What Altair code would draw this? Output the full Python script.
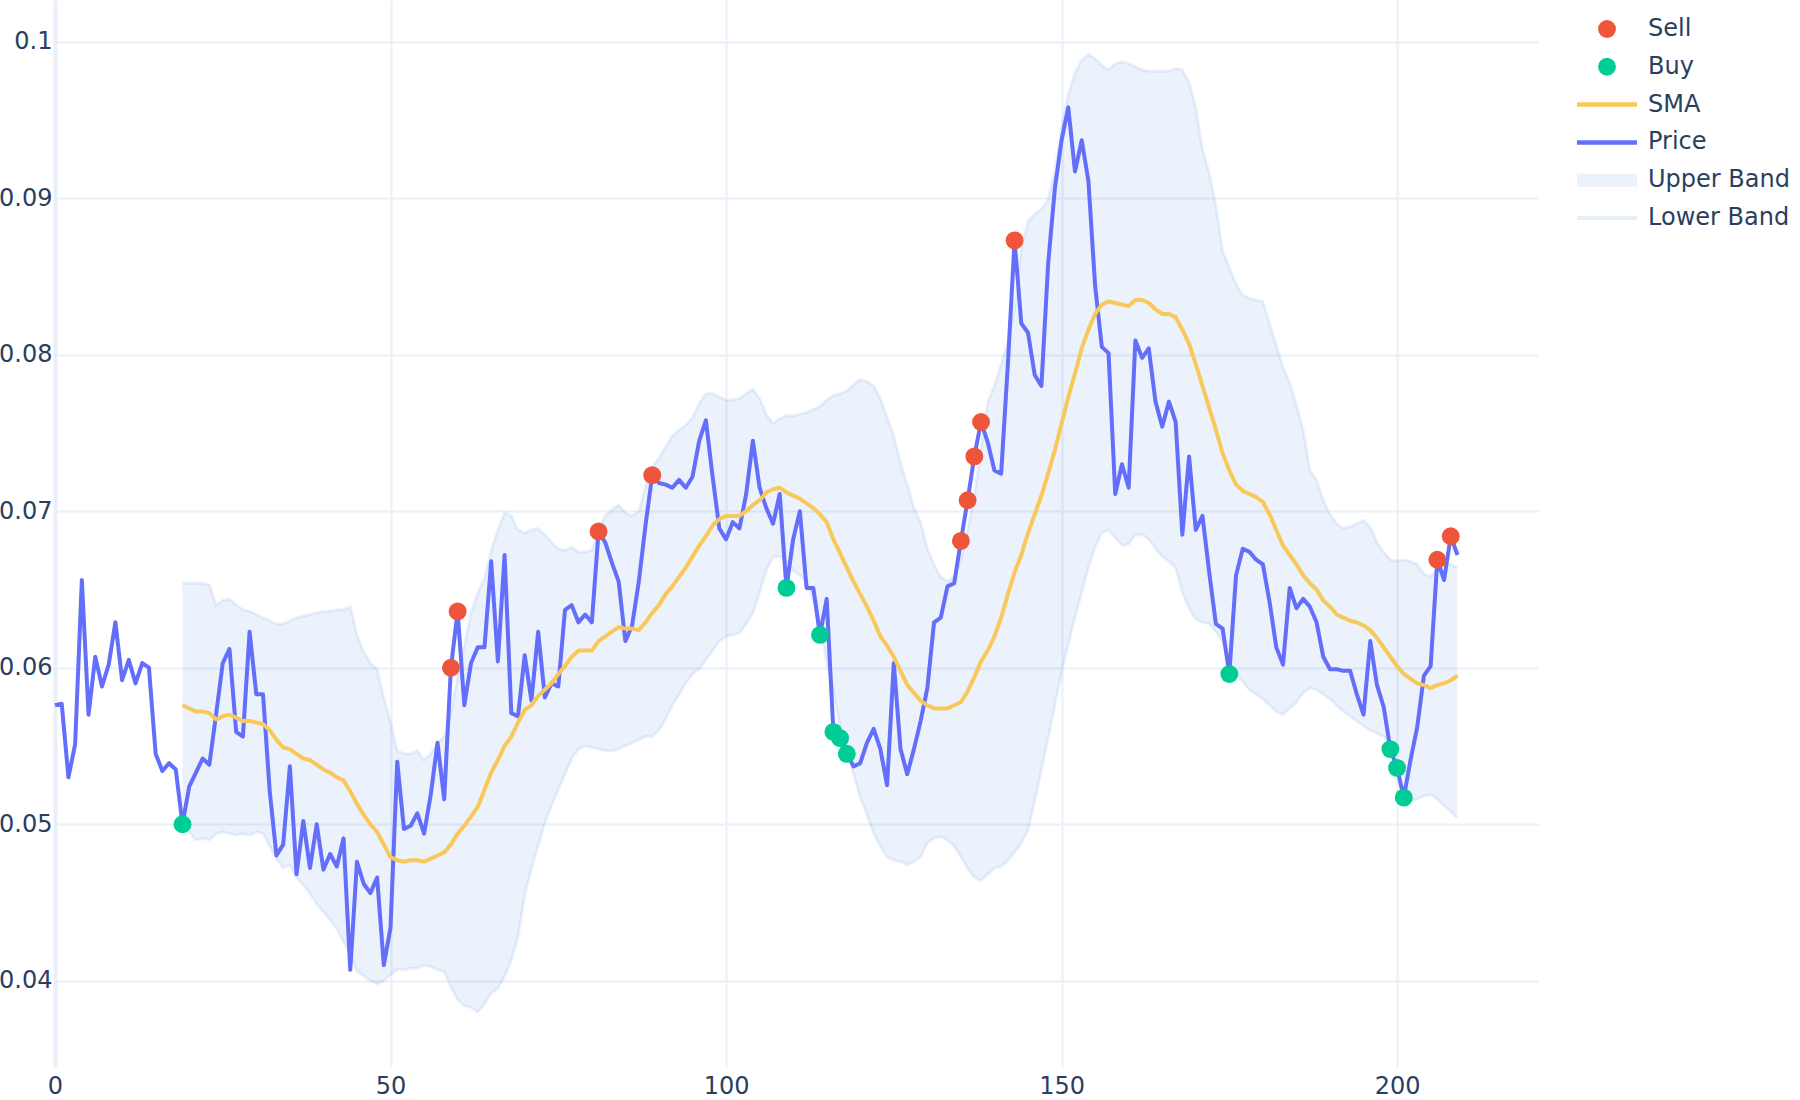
import altair as alt
import pandas as pd

# ---------------- data ----------------
price = [
    0.0576, 0.0577, 0.0530, 0.0551, 0.0656, 0.0570, 0.0607, 0.0588, 0.0602, 0.0629,
    0.0592, 0.0605, 0.0590, 0.0603, 0.0600, 0.0545, 0.0534, 0.0539, 0.0535, 0.0500,
    0.0524, 0.0533, 0.0542, 0.0538, 0.0570, 0.0603, 0.0612, 0.0559, 0.0556, 0.0623,
    0.0583, 0.0583, 0.0521, 0.0480, 0.0487, 0.0537, 0.0468, 0.0502, 0.0472, 0.0500,
    0.0471, 0.0481, 0.0473, 0.0491, 0.0407, 0.0476, 0.0462, 0.0456, 0.0466, 0.0410,
    0.0434, 0.0540, 0.0497, 0.0499, 0.0507, 0.0494, 0.0519, 0.0552, 0.0516, 0.0600,
    0.0636, 0.0576, 0.0603, 0.0613, 0.0613, 0.0668, 0.0604, 0.0672, 0.0571, 0.0569,
    0.0608, 0.0579, 0.0623, 0.0581, 0.0590, 0.0588, 0.0637, 0.0640, 0.0629, 0.0634,
    0.0629, 0.0687, 0.0680, 0.0667, 0.0655, 0.0617, 0.0627, 0.0655, 0.0691, 0.0723,
    0.0718, 0.0717, 0.0715, 0.0720, 0.0715, 0.0722, 0.0745, 0.0758, 0.0722, 0.0689,
    0.0682, 0.0693, 0.0689, 0.0711, 0.0745, 0.0715, 0.0702, 0.0692, 0.0711, 0.0651,
    0.0682, 0.0700, 0.0651, 0.0651, 0.0621, 0.0644, 0.0559, 0.0555, 0.0545, 0.0537,
    0.0539, 0.0552, 0.0561, 0.0548, 0.0525, 0.0603, 0.0548, 0.0532, 0.0548, 0.0566,
    0.0587, 0.0629, 0.0632, 0.0652, 0.0654, 0.0681, 0.0707, 0.0735, 0.0757, 0.0744,
    0.0726, 0.0724, 0.0794, 0.0873, 0.0820, 0.0814, 0.0787, 0.0780, 0.0858, 0.0906,
    0.0937, 0.0958, 0.0917, 0.0937, 0.0911, 0.0844, 0.0805, 0.0801, 0.0711, 0.0730,
    0.0715, 0.0809, 0.0798, 0.0804, 0.0770, 0.0754, 0.0770, 0.0757, 0.0685, 0.0735,
    0.0688, 0.0697, 0.0661, 0.0628, 0.0625, 0.0596, 0.0659, 0.0676, 0.0674, 0.0669,
    0.0666, 0.0642, 0.0613, 0.0602, 0.0651, 0.0638, 0.0644, 0.0639, 0.0629, 0.0607,
    0.0599, 0.0599, 0.0598, 0.0598, 0.0583, 0.0570, 0.0617, 0.0589, 0.0575, 0.0548,
    0.0536, 0.0517, 0.0541, 0.0562, 0.0595, 0.0601, 0.0669, 0.0656, 0.0684, 0.0672,
]

band_start = 19  # SMA / bands begin at this index

sma = [
    0.0576, 0.0574, 0.0572, 0.0572, 0.0571, 0.0567, 0.0569, 0.0570, 0.0568, 0.0566,
    0.0566, 0.0565, 0.0564, 0.0560, 0.0554, 0.0549, 0.0548, 0.0545, 0.0542, 0.0541,
    0.0538, 0.0535, 0.0533, 0.0530, 0.0528, 0.0521, 0.0513, 0.0506, 0.0500, 0.0495,
    0.0487, 0.0479, 0.0477, 0.0476, 0.0477, 0.0477, 0.0476, 0.0478, 0.0480, 0.0482,
    0.0487, 0.0494, 0.0499, 0.0505, 0.0511, 0.0522, 0.0533, 0.0541, 0.0550, 0.0556,
    0.0565, 0.0573, 0.0576, 0.0582, 0.0586, 0.0590, 0.0596, 0.0601, 0.0607, 0.0611,
    0.0611, 0.0611, 0.0617, 0.0620, 0.0623, 0.0626, 0.0625, 0.0625, 0.0624, 0.0629,
    0.0635, 0.0640, 0.0647, 0.0652, 0.0658, 0.0664, 0.0671, 0.0678, 0.0684, 0.0691,
    0.0695, 0.0697, 0.0697, 0.0697, 0.0700, 0.0704, 0.0707, 0.0712, 0.0714, 0.0715,
    0.0712, 0.0710, 0.0708, 0.0705, 0.0702, 0.0698, 0.0693, 0.0682, 0.0673, 0.0664,
    0.0655, 0.0647, 0.0639, 0.0630, 0.0620, 0.0614, 0.0607, 0.0598, 0.0589, 0.0584,
    0.0579, 0.0576, 0.0574, 0.0574, 0.0574, 0.0576, 0.0578, 0.0585, 0.0594, 0.0604,
    0.0611, 0.0620, 0.0632, 0.0647, 0.0661, 0.0672, 0.0686, 0.0698, 0.0710, 0.0724,
    0.0739, 0.0756, 0.0773, 0.0788, 0.0804, 0.0816, 0.0826, 0.0832, 0.0834, 0.0833,
    0.0832, 0.0831, 0.0835, 0.0835, 0.0833, 0.0829, 0.0826, 0.0826, 0.0824, 0.0816,
    0.0807, 0.0794, 0.0780, 0.0766, 0.0752, 0.0737, 0.0726, 0.0717, 0.0713, 0.0711,
    0.0709, 0.0706, 0.0698, 0.0688, 0.0678, 0.0672, 0.0666, 0.0659, 0.0654, 0.0650,
    0.0643, 0.0639, 0.0634, 0.0632, 0.0630, 0.0629, 0.0627, 0.0624, 0.0619, 0.0613,
    0.0607, 0.0601, 0.0596, 0.0593, 0.0590, 0.0589, 0.0587, 0.0589, 0.0590, 0.0592,
    0.0595,
]

upper = [
    0.0654, 0.0654, 0.0654, 0.0654, 0.0653, 0.0640, 0.0643, 0.0644, 0.0640, 0.0637,
    0.0636, 0.0634, 0.0632, 0.0630, 0.0628, 0.0628, 0.0630, 0.0632, 0.0633, 0.0634,
    0.0635, 0.0636, 0.0636, 0.0637, 0.0637, 0.0639, 0.0621, 0.0610, 0.0603, 0.0599,
    0.0581, 0.0565, 0.0547, 0.0545, 0.0545, 0.0547, 0.0541, 0.0545, 0.0552, 0.0556,
    0.0572, 0.0594, 0.0614, 0.0635, 0.0648, 0.0657, 0.0675, 0.0688, 0.0699, 0.0697,
    0.0688, 0.0686, 0.0688, 0.0689, 0.0685, 0.0680, 0.0676, 0.0675, 0.0677, 0.0674,
    0.0674, 0.0675, 0.0688, 0.0697, 0.0701, 0.0704, 0.0699, 0.0697, 0.0700, 0.0716,
    0.0728, 0.0734, 0.0741, 0.0748, 0.0752, 0.0755, 0.0760, 0.0769, 0.0775, 0.0775,
    0.0773, 0.0771, 0.0771, 0.0772, 0.0775, 0.0778, 0.0772, 0.0762, 0.0756, 0.0759,
    0.0761, 0.0761, 0.0762, 0.0763, 0.0765, 0.0767, 0.0771, 0.0774, 0.0775, 0.0777,
    0.0781, 0.0784, 0.0783, 0.0780, 0.0772, 0.0760, 0.0748, 0.0731, 0.0717, 0.0702,
    0.0693, 0.0676, 0.0666, 0.0658, 0.0655, 0.0658, 0.0669, 0.0688, 0.0710, 0.0740,
    0.0770, 0.0780, 0.0794, 0.0808, 0.0830, 0.0868, 0.0885, 0.0890, 0.0893, 0.0899,
    0.0918, 0.0945, 0.0966, 0.0980, 0.0988, 0.0992, 0.0989, 0.0985, 0.0982, 0.0986,
    0.0987, 0.0986, 0.0984, 0.0982, 0.0981, 0.0981, 0.0981, 0.0981, 0.0983, 0.0982,
    0.0974, 0.0958, 0.0931, 0.0916, 0.0895, 0.0866, 0.0856, 0.0845, 0.0838, 0.0836,
    0.0835, 0.0834, 0.0820, 0.0806, 0.0792, 0.0782, 0.0768, 0.0752, 0.0726, 0.0720,
    0.0707, 0.0698, 0.0692, 0.0689, 0.0690, 0.0692, 0.0694, 0.0690, 0.0680, 0.0674,
    0.0669, 0.0668, 0.0669, 0.0668, 0.0666, 0.0660, 0.0658, 0.0663, 0.0667, 0.0666,
    0.0664,
]

lower = [
    0.0497, 0.0495, 0.0490, 0.0491, 0.0490, 0.0494, 0.0495, 0.0494, 0.0493, 0.0494,
    0.0493, 0.0495, 0.0494, 0.0486, 0.0478, 0.0472, 0.0474, 0.0466, 0.0461, 0.0456,
    0.0449, 0.0444, 0.0439, 0.0433, 0.0425, 0.0416, 0.0406, 0.0403, 0.0400, 0.0398,
    0.0400, 0.0404, 0.0407, 0.0407, 0.0408, 0.0408, 0.0410, 0.0409, 0.0407, 0.0406,
    0.0396, 0.0388, 0.0384, 0.0383, 0.0380, 0.0385, 0.0392, 0.0395, 0.0403, 0.0413,
    0.0428, 0.0455, 0.0472, 0.0486, 0.0501, 0.0512, 0.0522, 0.0532, 0.0542, 0.0548,
    0.0550, 0.0549, 0.0548, 0.0547, 0.0547, 0.0548, 0.0550, 0.0552, 0.0554, 0.0556,
    0.0556, 0.0560, 0.0567, 0.0576, 0.0583, 0.0590, 0.0596, 0.0599, 0.0605, 0.0611,
    0.0617, 0.0620, 0.0621, 0.0622, 0.0628, 0.0635, 0.0648, 0.0662, 0.0671, 0.0671,
    0.0668, 0.0662, 0.0659, 0.0654, 0.0644, 0.0629, 0.0603, 0.0585, 0.0563, 0.0547,
    0.0532, 0.0517, 0.0506, 0.0494, 0.0486, 0.0479, 0.0477, 0.0476, 0.0474, 0.0476,
    0.0479, 0.0488, 0.0491, 0.0492, 0.0490, 0.0486, 0.0479, 0.0472, 0.0466, 0.0464,
    0.0468, 0.0472, 0.0473, 0.0477, 0.0482, 0.0488, 0.0496, 0.0515, 0.0535, 0.0555,
    0.0576, 0.0597, 0.0615, 0.0632, 0.0648, 0.0664, 0.0677, 0.0686, 0.0688, 0.0683,
    0.0678, 0.0679, 0.0685, 0.0685, 0.0682, 0.0676, 0.0671, 0.0668, 0.0664, 0.0648,
    0.0638, 0.0631, 0.0629, 0.0628, 0.0623, 0.0617, 0.0603, 0.0597, 0.0591, 0.0586,
    0.0583, 0.0580, 0.0576, 0.0572, 0.0570, 0.0574, 0.0578, 0.0584, 0.0587, 0.0586,
    0.0583, 0.0580, 0.0576, 0.0572, 0.0569, 0.0566, 0.0563, 0.0560, 0.0558, 0.0556,
    0.0552, 0.0536, 0.0513, 0.0515, 0.0516, 0.0518, 0.0519, 0.0516, 0.0512, 0.0508,
    0.0504,
]

sell_idx = [59, 60, 81, 89, 135, 136, 137, 138, 143, 206, 208]
buy_idx = [19, 109, 114, 116, 117, 118, 175, 199, 200, 201]

legend_names = ["Sell", "Buy", "SMA", "Price", "Upper Band", "Lower Band"]
x_ticks = [0, 50, 100, 150, 200]
y_ticks = [0.04, 0.05, 0.06, 0.07, 0.08, 0.09, 0.1]

# ---------------- tables ----------------
df_price = pd.DataFrame({"t": list(range(len(price))), "v": price})
band_t = list(range(band_start, band_start + len(sma)))
df_band = pd.DataFrame({"t": band_t, "sma": sma, "upper": upper, "lower": lower})
df_sell = pd.DataFrame({"t": sell_idx, "v": [price[i] for i in sell_idx]})
df_buy = pd.DataFrame({"t": buy_idx, "v": [price[i] for i in buy_idx]})

# ---------------- style ----------------
FONT = "DejaVu Sans"
FSIZE = 24
TXT = "#2a3f5f"
GRID = "#EBF0F8"
C_SELL = "#EF553B"
C_BUY = "#00CC96"
C_SMA = "#F8C85A"
C_PRICE = "#636EFA"
C_BAND = "#055DD9"

W, H = 1483, 1067
PAD_L, PAD_T = 55, 0

xs = alt.Scale(domain=[0, 221], nice=False, zero=False)
ys = alt.Scale(domain=[0.03449, 0.10266], nice=False, zero=False)

x_axis = alt.Axis(values=x_ticks, grid=True, gridColor=GRID, gridWidth=2,
                  domain=False, ticks=False, labelFontSize=FSIZE, labelFont=FONT,
                  labelColor=TXT, labelPadding=7, labelFlush=False, title=None)
y_axis = alt.Axis(values=y_ticks, format=".2~f", grid=True, gridColor=GRID,
                  gridWidth=2, domain=True, domainColor=GRID, domainWidth=4,
                  ticks=False, labelFontSize=FSIZE, labelFont=FONT, labelColor=TXT,
                  labelPadding=3, labelFlush=False, title=None)

X = alt.X("t:Q", scale=xs, axis=x_axis)

band_area = alt.Chart(df_band).mark_area(color=C_BAND, opacity=0.08).encode(
    x=X, y=alt.Y("lower:Q", scale=ys, axis=y_axis), y2="upper:Q")
upper_line = alt.Chart(df_band).mark_line(color=C_BAND, opacity=0.08, strokeWidth=3).encode(
    x=X, y=alt.Y("upper:Q", scale=ys, axis=y_axis))
lower_line = alt.Chart(df_band).mark_line(color=C_BAND, opacity=0.08, strokeWidth=3).encode(
    x=X, y=alt.Y("lower:Q", scale=ys, axis=y_axis))
price_line = alt.Chart(df_price).mark_line(color=C_PRICE, strokeWidth=4, strokeJoin="round").encode(
    x=X, y=alt.Y("v:Q", scale=ys, axis=y_axis))
sma_line = alt.Chart(df_band).mark_line(color=C_SMA, strokeWidth=4, strokeJoin="round").encode(
    x=X, y=alt.Y("sma:Q", scale=ys, axis=y_axis))
buy_pts = alt.Chart(df_buy).mark_circle(color=C_BUY, size=320, opacity=1).encode(
    x=X, y=alt.Y("v:Q", scale=ys, axis=y_axis))
sell_pts = alt.Chart(df_sell).mark_circle(color=C_SELL, size=320, opacity=1).encode(
    x=X, y=alt.Y("v:Q", scale=ys, axis=y_axis))

main = alt.layer(band_area, upper_line, lower_line, price_line, sma_line, buy_pts, sell_pts)

# ---------------- legend (drawn to the right of the plot) ----------------
legend_style = {
    "Sell": (C_SELL, 0),
    "Buy": (C_BUY, 0),
    "SMA": (C_SMA, 4.5),
    "Price": (C_PRICE, 4.5),
    "Upper Band": ("#EBF2FC", 13),
    "Lower Band": ("#E6EEFA", 4),
}
df_leg = pd.DataFrame({
    "name": legend_names,
    "color": [legend_style[n][0] for n in legend_names],
    "sw": [legend_style[n][1] for n in legend_names],
})
leg_y = alt.Y("name:N", scale=alt.Scale(type="point", domain=legend_names,
                                        range=[29, 218], padding=0), axis=None)
sym_cx = 1607 - PAD_L
leg_pts = alt.Chart(df_leg).transform_filter(alt.datum.sw == 0).mark_circle(
    size=320, opacity=1).encode(
    x=alt.value(sym_cx), y=leg_y, color=alt.Color("color:N", scale=None, legend=None))
leg_lines = alt.Chart(df_leg).transform_filter(alt.datum.sw > 0).mark_rule().encode(
    x=alt.value(sym_cx - 30), x2=alt.value(sym_cx + 30), y=leg_y,
    color=alt.Color("color:N", scale=None, legend=None),
    strokeWidth=alt.StrokeWidth("sw:Q", scale=None, legend=None))
leg_text = alt.Chart(df_leg).mark_text(align="left", baseline="middle", fontSize=FSIZE,
                                       font=FONT, color=TXT).encode(
    x=alt.value(1648 - PAD_L), y=leg_y, text="name:N")
legend = alt.layer(leg_pts, leg_lines, leg_text)

chart = alt.layer(main, legend).resolve_scale(y="independent", color="independent").properties(
    width=W, height=H,
    autosize=alt.AutoSizeParams(type="none"),
    padding={"left": PAD_L, "top": PAD_T, "right": 1800 - PAD_L - W, "bottom": 1100 - PAD_T - H},
    background="white",
).configure_view(stroke=None)

chart.save("out.html", embed_options={"renderer": "svg", "actions": False})
